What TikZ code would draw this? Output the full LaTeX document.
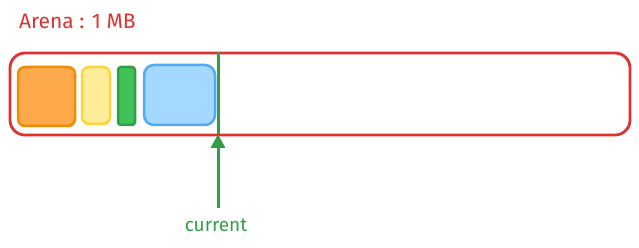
\documentclass[tikz,border=0pt]{standalone}
\usepackage{fontspec}
\setmainfont{Fira Sans}
\usetikzlibrary{arrows.meta}
\definecolor{exred}{HTML}{E03131}
\definecolor{exgreen}{HTML}{2F9E44}
\definecolor{orfill}{HTML}{FFA94D}
\definecolor{orline}{HTML}{F08C00}
\definecolor{yefill}{HTML}{FFEC99}
\definecolor{yeline}{HTML}{FFD43B}
\definecolor{grfill}{HTML}{40C057}
\definecolor{blfill}{HTML}{A5D8FF}
\definecolor{blline}{HTML}{4DABF7}
\tikzset{
  block/.style={line width=2.5pt, rounded corners=7pt},
  lbl/.style={inner sep=0pt, font=\fontsize{21}{24}\selectfont}
}
\begin{document}
\begin{tikzpicture}[x=1pt,y=-1pt]
\useasboundingbox (0,0) rectangle (639,248);
\draw[exred, line width=2.8pt, rounded corners=15pt] (10,53) rectangle (630,135);
\node[lbl, text=exred, anchor=west] (title) at (19,21) {Arena : 1 MB};
\draw[block, draw=orline, fill=orfill] (18,67) rectangle (75,126);
\draw[block, draw=yeline, fill=yefill] (82,67) rectangle (110,124);
\draw[block, draw=exgreen, fill=grfill, rounded corners=3pt] (118,67) rectangle (135,125);
\draw[block, draw=blline, fill=blfill, rounded corners=10pt] (144,65) rectangle (215,125);
\coordinate (top) at (218,52);
\coordinate (mid) at (218,134);
\coordinate (bot) at (218,208);
\draw[exgreen, line width=3pt] (top) -- (mid);
\draw[exgreen, line width=3pt, -{Triangle[length=14pt,width=14pt]}] (bot) -- (mid);
\node[lbl, text=exgreen, font=\fontsize{19}{22}\selectfont] (cur) at (216,225) {current};
\end{tikzpicture}
\end{document}
